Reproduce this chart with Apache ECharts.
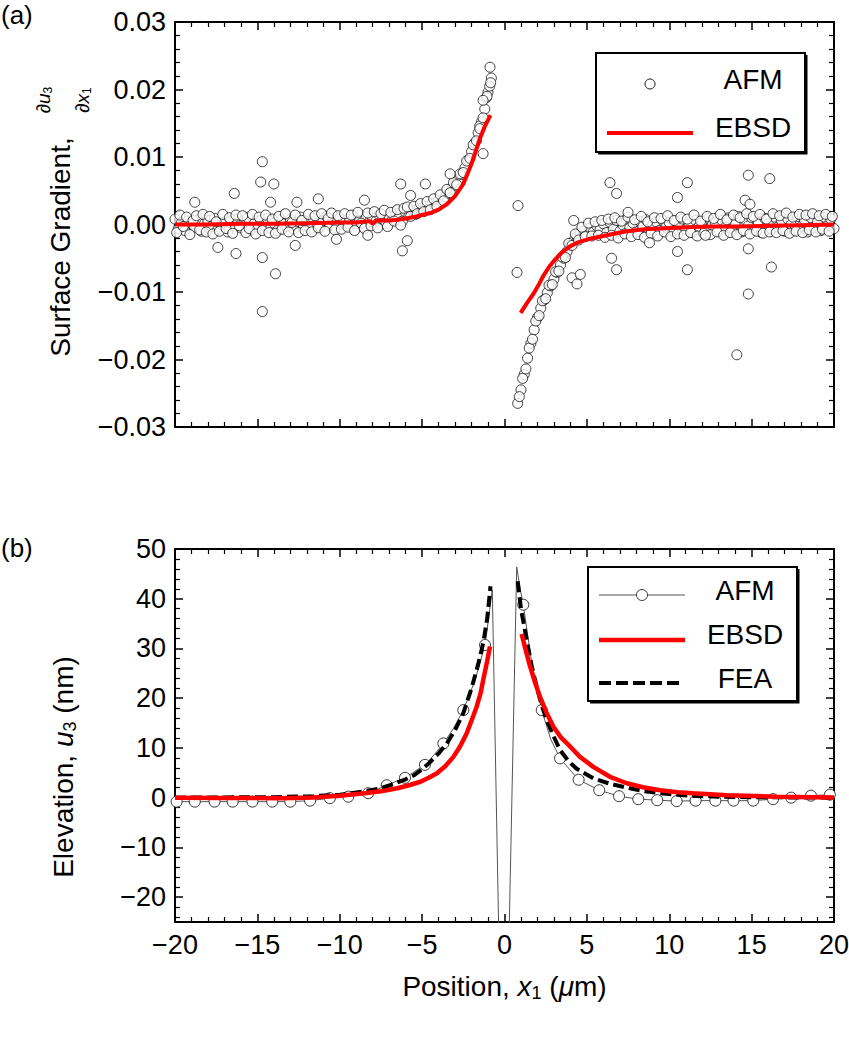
<!DOCTYPE html>
<html><head><meta charset="utf-8">
<script src="https://cdn.jsdelivr.net/npm/echarts@6/dist/echarts.min.js"></script>
<style>html,body{margin:0;padding:0;background:#fff}#c{width:849px;height:1050px}</style>
</head><body><div id="c"></div>
<script>
// ---------- Panel (a): surface gradient (AFM samples) ----------
const gradLeftX = [
-20,-19.8,-19.6,-19.4,-19.2,-19,-18.8,-18.6,-18.4,-18.2,
-18,-17.8,-17.6,-17.4,-17.2,-17,-16.8,-16.6,-16.4,-16.2,
-16,-15.8,-15.6,-15.4,-15.2,-15,-14.8,-14.6,-14.4,-14.2,
-14,-13.8,-13.6,-13.4,-13.2,-13,-12.8,-12.6,-12.4,-12.2,
-12,-11.8,-11.6,-11.4,-11.2,-11,-10.8,-10.6,-10.4,-10.2,
-10,-9.8,-9.6,-9.4,-9.2,-9,-8.8,-8.6,-8.4,-8.2,
-8,-7.8,-7.6,-7.4,-7.2,-7,-6.8,-6.6,-6.4,-6.2,
-6,-5.8,-5.6,-5.4,-5.2,-5,-4.8,-4.6,-4.4,-4.2,
-4,-3.8,-3.6,-3.4,-3.2,-3,-2.8,-2.6,-2.4,-2.2,
-2,-1.8,-1.6,-1.4,-1.2,-1,-0.8];
const gradLeftY = [
0.0008,-0.0006,0.0003,-0.0009,0.0005,0.0001,-0.0004,0.0007,-0.0010,0.0002,
0.0006,-0.0003,0.0009,-0.0007,0.0000,0.0004,-0.0011,0.0005,-0.0002,0.0008,
-0.0005,0.0003,0.0010,-0.0008,0.0001,-0.0004,0.0006,-0.0001,0.0009,-0.0006,
0.0002,-0.0009,0.0007,0.0001,-0.0003,0.0008,-0.0006,0.0004,0.0011,-0.0002,
0.0005,-0.0007,0.0009,0.0002,-0.0004,0.0006,0.0012,-0.0001,0.0007,-0.0005,
0.0010,0.0003,-0.0002,0.0008,0.0013,0.0001,0.0006,-0.0003,0.0011,0.0004,
0.0009,0.0005,0.0014,0.0008,0.0002,0.0012,0.0007,0.0016,0.0010,0.0005,
0.0018,0.0013,0.0021,0.0015,0.0024,0.0020,0.0027,0.0023,0.0031,0.0028,
0.0036,0.0033,0.0041,0.0046,0.0052,0.0058,0.0066,0.0074,0.0084,0.0095,
0.0108,0.0121,0.0136,0.0152,0.0171,0.0196,0.0217];
const gradMidLeftX = [
-19.9,-19.7,-19.5,-19.3,-19.1,-18.9,-18.7,-18.5,-18.3,-18.1,
-17.9,-17.7,-17.5,-17.3,-17.1,-16.9,-16.7,-16.5,-16.3,-16.1,
-15.9,-15.7,-15.5,-15.3,-15.1,-14.9,-14.7,-14.5,-14.3,-14.1,
-13.9,-13.7,-13.5,-13.3,-13.1,-12.9,-12.7,-12.5,-12.3,-12.1,
-11.9,-11.7,-11.5,-11.3,-11.1,-10.9,-10.7,-10.5,-10.3,-10.1,
-9.9,-9.7,-9.5,-9.3,-9.1,-8.9,-8.7,-8.5,-8.3,-8.1,
-7.9,-7.7,-7.5,-7.3,-7.1,-6.9,-6.7,-6.5,-6.3,-6.1,
-5.9,-5.7,-5.5,-5.3,-5.1,-4.9,-4.7,-4.5,-4.3,-4.1,
-3.9,-3.7,-3.5,-3.3,-3.1,-2.9,-2.7,-2.5,-2.3,-2.1,
-1.9,-1.7,-1.5,-1.3,-1.1,-0.9];
const gradMidLeftY = [
-0.0012,0.0014,-0.0003,0.0011,-0.0015,0.0006,0.0013,-0.0008,0.0015,-0.0011,
0.0012,-0.0014,0.0004,-0.0010,0.0015,-0.0006,0.0010,-0.0013,0.0014,-0.0002,
0.0013,-0.0012,-0.0006,0.0015,-0.0014,0.0011,-0.0009,0.0014,-0.0012,0.0008,
-0.0013,0.0012,-0.0007,0.0016,-0.0011,0.0003,0.0014,-0.0012,0.0006,-0.0009,
0.0015,-0.0011,0.0013,-0.0005,0.0016,-0.0010,0.0009,0.0017,-0.0008,0.0013,
-0.0007,0.0016,-0.0004,0.0014,-0.0009,0.0018,0.0002,-0.0006,0.0017,-0.0002,
0.0019,-0.0005,0.0016,0.0021,-0.0003,0.0018,0.0005,0.0022,-0.0001,0.0024,
0.0026,0.0012,0.0027,0.0016,0.0031,0.0019,0.0034,0.0022,0.0038,0.0027,
0.0044,0.0035,0.0052,0.0047,0.0062,0.0059,0.0075,0.0077,0.0094,0.0098,
0.0118,0.0124,0.0146,0.0158,0.0188,0.0205];
const gradRightX = [
0.8,1,1.2,1.4,1.6,1.8,2,2.2,2.4,2.6,
2.8,3,3.2,3.4,3.6,3.8,4,4.2,4.4,4.6,
4.8,5,5.2,5.4,5.6,5.8,6,6.2,6.4,6.6,
6.8,7,7.2,7.4,7.6,7.8,8,8.2,8.4,8.6,
8.8,9,9.2,9.4,9.6,9.8,10,10.2,10.4,10.6,
10.8,11,11.2,11.4,11.6,11.8,12,12.2,12.4,12.6,
12.8,13,13.2,13.4,13.6,13.8,14,14.2,14.4,14.6,
14.8,15,15.2,15.4,15.6,15.8,16,16.2,16.4,16.6,
16.8,17,17.2,17.4,17.6,17.8,18,18.2,18.4,18.6,
18.8,19,19.2,19.4,19.6,19.8,20];
const gradRightY = [
-0.0265,-0.0245,-0.0222,-0.0198,-0.0176,-0.0156,-0.0138,-0.0124,-0.0112,-0.0101,
-0.0091,-0.0081,-0.0071,-0.0060,-0.0050,-0.0040,-0.0030,-0.0024,-0.0018,-0.0013,
-0.0010,-0.0016,-0.0005,-0.0011,-0.0002,-0.0008,0.0001,-0.0012,0.0003,-0.0007,
0.0006,-0.0010,-0.0001,0.0008,-0.0005,0.0002,-0.0011,0.0005,-0.0003,0.0007,
-0.0008,0.0000,0.0004,-0.0009,0.0006,-0.0004,0.0003,-0.0010,0.0005,-0.0002,
0.0008,-0.0007,0.0001,-0.0012,0.0006,-0.0003,0.0004,-0.0008,0.0009,-0.0001,
0.0003,-0.0010,0.0006,-0.0004,0.0010,-0.0006,0.0002,0.0012,-0.0011,0.0007,
-0.0002,0.0010,-0.0008,0.0004,-0.0012,0.0009,0.0001,-0.0007,0.0011,-0.0004,
0.0006,-0.0010,0.0008,0.0000,-0.0009,0.0012,-0.0003,0.0007,-0.0011,0.0010,
-0.0005,0.0004,-0.0009,0.0011,-0.0002,0.0008,-0.0006];
const gradMidRightX = [
0.9,1.1,1.3,1.5,1.7,1.9,2.1,2.3,2.5,2.7,
2.9,3.1,3.3,3.5,3.7,3.9,4.1,4.3,4.5,4.7,
4.9,5.1,5.3,5.5,5.7,5.9,6.1,6.3,6.5,6.7,
6.9,7.1,7.3,7.5,7.7,7.9,8.1,8.3,8.5,8.7,
8.9,9.1,9.3,9.5,9.7,9.9,10.1,10.3,10.5,10.7,
10.9,11.1,11.3,11.5,11.7,11.9,12.1,12.3,12.5,12.7,
12.9,13.1,13.3,13.5,13.7,13.9,14.1,14.3,14.5,14.7,
14.9,15.1,15.3,15.5,15.7,15.9,16.1,16.3,16.5,16.7,
16.9,17.1,17.3,17.5,17.7,17.9,18.1,18.3,18.5,18.7,
18.9,19.1,19.3,19.5,19.7,19.9];
const gradMidRightY = [
-0.0255,-0.0228,-0.0214,-0.0183,-0.0170,-0.0143,-0.0135,-0.0113,-0.0110,-0.0090,
-0.0089,-0.0070,-0.0069,-0.0048,-0.0049,-0.0028,-0.0031,-0.0014,-0.0023,-0.0004,
-0.0018,0.0002,-0.0017,0.0004,-0.0016,0.0006,-0.0019,0.0008,-0.0016,0.0010,
-0.0020,0.0005,-0.0014,0.0011,-0.0018,0.0007,-0.0015,0.0012,-0.0019,0.0004,
-0.0013,0.0010,-0.0017,0.0009,-0.0011,0.0013,-0.0018,0.0006,-0.0014,0.0011,
-0.0016,0.0008,-0.0012,0.0014,-0.0017,0.0005,-0.0013,0.0012,-0.0015,0.0009,
-0.0011,0.0015,-0.0016,0.0007,-0.0012,0.0014,-0.0015,0.0010,-0.0009,0.0016,
-0.0014,0.0012,-0.0010,0.0015,-0.0013,0.0008,-0.0011,0.0016,-0.0012,0.0013,
-0.0009,0.0017,-0.0013,0.0011,-0.0010,0.0015,-0.0012,0.0014,-0.0008,0.0016,
-0.0011,0.0013,-0.0007,0.0015,-0.0010,0.0012];
const gradOutX = [-18.8,-17.4,-16.4,-16.3,-14.7,-14.8,-14.0,-14.2,-14.7,-13.9,
-14.7,-12.6,-12.7,-11.3,-10.2,-8.5,-8.3,-6.3,-5.7,-5.9,
-6.2,-4.8,-3.3,-1.3,-0.88,-0.84,-1.06,-1.3,-1.5,0.82,
0.76,4.1,4.4,4.6,4.2,6.4,6.8,6.5,6.8,7.5,
8.8,10.5,11.1,10.5,11.1,12.2,14.8,16.1,14.6,14.9,
14.8,16.2,14.8,14.1];
const gradOutY = [0.0033,-0.0034,0.0046,-0.0043,0.0093,0.0063,0.0060,0.0033,-0.0049,-0.0073,
-0.0129,0.0033,-0.0031,0.0038,-0.0022,0.0036,-0.0016,0.0060,0.0043,-0.0024,
-0.0039,0.0060,0.0075,0.0105,0.0233,0.0210,0.0190,0.0184,0.0142,0.0028,
-0.0071,-0.0079,-0.0088,-0.0074,0.0006,0.0062,0.0046,-0.0050,-0.0067,0.0018,
-0.0027,0.0040,0.0062,-0.0040,-0.0067,-0.0016,0.0073,0.0068,0.0036,0.0030,
-0.0036,-0.0063,-0.0103,-0.0193];
const ebsdGradLX = [-20,-18,-16,-14,-12,-10,-9,-8.2,-8,-7.8,-7,-6.5,-6,-5.5,-5,-4.5,-4,-3.5,-3,-2.5,-2,-1.5,-1.2,-0.85];
const ebsdGradLY = [0,0,0.0001,0.0001,0.0002,0.0003,0.0003,0.0005,0.0001,0.0006,0.0006,0.0007,0.0009,0.0011,0.0014,0.0017,0.0022,0.003,0.0042,0.006,0.009,0.0127,0.0145,0.0162];
const ebsdGradRX = [0.98,1.4,1.75,2.1,2.36,2.7,3.07,3.5,4.0,4.5,5.2,6.2,7.4,8.5,9.4,11,12.5,14,16,18,20];
const ebsdGradRY = [-0.0131,-0.0115,-0.0103,-0.0088,-0.0076,-0.0063,-0.0052,-0.0041,-0.0032,-0.0026,-0.0021,-0.0016,-0.001,-0.0007,-0.0006,-0.0004,-0.0003,-0.0003,-0.0002,-0.0001,0];

// ---------- Panel (b): elevation ----------
const afmElevX = [-19.9,-18.8,-17.6,-16.5,-15.3,-14.1,-13.0,-11.8,-10.6,-9.48,-8.27,-7.15,-6.04,-4.83,-4.3,-3.71,-3.1,-2.5,-1.8,-1.18,-0.95,-0.74,-0.05,0.74,0.95,1.14,1.7,2.26,2.8,3.37,4.5,5.75,6.95,8.12,9.27,10.45,11.6,12.8,13.9,15.1,16.3,17.4,18.6,19.75];
const afmElevY = [-0.8,-0.8,-0.8,-0.8,-0.8,-0.8,-0.8,-0.6,-0.1,0.2,0.9,2.5,4.0,6.6,8.5,10.9,13.9,17.6,23.5,30.7,36.5,41.8,-80,46.4,42,38.8,26,17.6,11.8,7.9,3.6,1.5,0.3,-0.3,-0.5,-0.7,-0.6,-0.6,-0.6,-0.6,-0.3,0.0,0.4,0.6];
const afmElevMarker = [1,1,1,1,1,1,1,1,1,1,1,1,1,1,0,1,0,1,0,1,0,0,0,0,0,1,0,1,0,1,1,1,1,1,1,1,1,1,1,1,1,1,1,1];
const ebsdElevLX = [-20,-17,-13.6,-11.6,-10,-8.5,-7.5,-6.5,-5.8,-5.1,-4.6,-4.1,-3.6,-3.1,-2.7,-2.3,-2.0,-1.69,-1.45,-1.29,-1.05,-0.88];
const ebsdElevLY = [0,-0.05,-0.1,0.05,0.4,0.9,1.3,1.9,2.5,3.2,4.0,4.9,6.3,8.2,10.3,12.9,15.5,18.3,21,23.7,27.5,30.4];
const ebsdElevRX = [1.04,1.3,1.55,1.85,2.15,2.55,2.96,3.45,3.98,4.58,5.39,6.4,7.42,8.4,9.44,10.5,11.46,13.5,16.5,20];
const ebsdElevRY = [32.9,29.5,26.4,23.2,20.3,17.1,14.3,12,10.3,8.2,6.2,4.2,2.9,2.1,1.5,1.1,0.9,0.5,0.2,0.05];
const feaElevLX = [-20,-17,-14,-11.6,-10,-8.6,-7.5,-6.95,-6,-5.5,-5,-4.5,-4,-3.5,-3,-2.5,-2,-1.6,-1.29,-1.05,-0.85];
const feaElevLY = [0,0.05,0.1,0.3,0.6,1.2,1.9,2.5,3.7,4.5,5.7,7.2,8.9,10.9,13.6,17,22,26.8,31.1,36,42.5];
const feaElevRX = [0.8,1.0,1.35,1.65,1.95,2.25,2.56,3.0,3.37,3.9,4.38,5.39,6.4,7.42,8.5,9.44,10.5,11.5,13,15,17.5,20];
const feaElevRY = [43.5,38,31.7,26.5,22.3,18.7,15.6,12.2,9.6,7.3,5.8,3.9,2.8,2.0,1.3,0.9,0.6,0.35,0.2,0.1,0.05,0];

// ---------- Ticks ----------
const elevMajorTicks = [-20,-10,0,10,20,30,40,50];
const elevMinorTicks = [-24,-22,-18,-16,-14,-12,-8,-6,-4,-2,2,4,6,8,12,14,16,18,22,24,26,28,32,34,36,38,42,44,46,48];

const FONT = '"Liberation Sans", Arial, Helvetica, sans-serif';
const pairs = (xs, ys) => xs.map((x, i) => [x, ys[i]]);
const minus = s => String(s).replace('-', '\u2212');

const chart = echarts.init(document.getElementById('c'), null, {renderer: 'svg'});

const axisLine = {show: true, onZero: false, lineStyle: {color: '#000', width: 2}};
const tickMajor = {show: true, inside: true, length: 8, lineStyle: {color: '#000', width: 1.5}};
const tickMinor = {show: true, splitNumber: 5, length: 5, lineStyle: {color: '#000', width: 1.2}};
const labelBase = {margin: 9, fontSize: 27, fontFamily: FONT, color: '#000'};

function xAx(grid, pos, showLabels, extra) {
  return Object.assign({
    type: 'value', gridIndex: grid, position: pos, min: -20, max: 20, interval: 5,
    axisLine, axisTick: tickMajor, minorTick: tickMinor,
    splitLine: {show: false}, minorSplitLine: {show: false},
    axisLabel: Object.assign({show: showLabels, formatter: v => minus(v)}, labelBase)
  }, extra || {});
}
function yGradAx(pos, showLabels) {
  return {
    type: 'value', gridIndex: 0, position: pos, min: -0.03, max: 0.03, interval: 0.01,
    axisLine, axisTick: tickMajor, minorTick: tickMinor,
    splitLine: {show: false}, minorSplitLine: {show: false},
    axisLabel: Object.assign({show: showLabels, formatter: v => minus((Math.abs(v) < 1e-9 ? 0 : v).toFixed(2))}, labelBase)
  };
}
function yElevAx(pos, showLabels) {
  return {
    type: 'value', gridIndex: 1, position: pos, min: -25, max: 50,
    axisLine, axisTick: Object.assign({customValues: elevMajorTicks}, tickMajor),
    minorTick: {show: false}, splitLine: {show: false},
    axisLabel: Object.assign({show: showLabels, customValues: elevMajorTicks, formatter: v => minus(v)}, labelBase)
  };
}
function yElevMinorAx(pos) {
  return {
    type: 'value', gridIndex: 1, position: pos, min: -25, max: 50,
    axisLine: {show: false, onZero: false},
    axisTick: {show: true, inside: true, length: 5, customValues: elevMinorTicks, lineStyle: {color: '#000', width: 1.2}},
    minorTick: {show: false}, splitLine: {show: false}, axisLabel: {show: false}
  };
}

const richTitle = {
  n: {fontSize: 28, fontFamily: FONT, color: '#000', lineHeight: 32},
  i: {fontSize: 28, fontFamily: FONT, color: '#000', fontStyle: 'italic', lineHeight: 32},
  s: {fontSize: 18, fontFamily: FONT, color: '#000', lineHeight: 14, verticalAlign: 'bottom'}
};
const richFrac = {
  n: {fontSize: 19, fontFamily: FONT, color: '#000', lineHeight: 22},
  i: {fontSize: 19, fontFamily: FONT, color: '#000', fontStyle: 'italic', lineHeight: 22},
  s: {fontSize: 12, fontFamily: FONT, color: '#000', lineHeight: 10, verticalAlign: 'bottom'}
};

function legendBox(x, y, w, h) {
  return [
    {type: 'rect', z: 100, shape: {x, y, width: w, height: h}, style: {fill: '#fff', stroke: '#000', lineWidth: 2}},
    {type: 'polyline', z: 101, shape: {points: [[x + w + 1, y + 2], [x + w + 1, y + h + 1], [x + 2, y + h + 1]]}, style: {fill: null, stroke: '#000', lineWidth: 3}}
  ];
}
function legendText(text, cx, cy) {
  return {type: 'text', z: 102, x: cx, y: cy, style: {text, fontSize: 28, fontFamily: FONT, fill: '#000', align: 'center', verticalAlign: 'middle'}};
}

const option = {
  animation: false,
  backgroundColor: '#fff',
  grid: [
    {left: 175, right: 15, top: 22, height: 405, containLabel: false, outerBoundsMode: 'none'},
    {left: 175, right: 15, top: 549, height: 373, containLabel: false, outerBoundsMode: 'none'}
  ],
  xAxis: [
    xAx(0, 'bottom', false),
    xAx(0, 'top', false),
    xAx(1, 'bottom', true, {
      name: '{n|Position, }{i|x}{s|1}{n| (}{i|\u03bc}{n|m)}', nameLocation: 'middle', nameGap: 48,
      nameTextStyle: {rich: richTitle, fontSize: 28, fontFamily: FONT, color: '#000'}
    }),
    xAx(1, 'top', false)
  ],
  yAxis: [
    yGradAx('left', true),
    yGradAx('right', false),
    yElevAx('left', true),
    yElevAx('right', false),
    yElevMinorAx('left'),
    yElevMinorAx('right')
  ],
  series: [
    {name: 'AFM', type: 'scatter', xAxisIndex: 0, yAxisIndex: 0, symbol: 'circle', symbolSize: 10, z: 2,
     itemStyle: {color: '#fff', borderColor: '#111', borderWidth: 1},
     data: pairs(gradLeftX, gradLeftY).concat(pairs(gradMidLeftX, gradMidLeftY), pairs(gradRightX, gradRightY), pairs(gradMidRightX, gradMidRightY), pairs(gradOutX, gradOutY))},
    {name: 'EBSD', type: 'line', xAxisIndex: 0, yAxisIndex: 0, symbol: 'none', z: 3,
     lineStyle: {color: '#ff0000', width: 4}, data: pairs(ebsdGradLX, ebsdGradLY)},
    {name: 'EBSD', type: 'line', xAxisIndex: 0, yAxisIndex: 0, symbol: 'none', z: 3,
     lineStyle: {color: '#ff0000', width: 4}, data: pairs(ebsdGradRX, ebsdGradRY)},
    {name: 'AFM elev', type: 'line', xAxisIndex: 2, yAxisIndex: 2, symbol: 'circle', symbolSize: 11, showAllSymbol: true, z: 2,
     lineStyle: {color: '#555', width: 1}, itemStyle: {color: '#fff', borderColor: '#333', borderWidth: 1},
     data: afmElevX.map((x, i) => afmElevMarker[i] ? [x, afmElevY[i]] : {value: [x, afmElevY[i]], symbol: 'none'})},
    {name: 'FEA', type: 'line', xAxisIndex: 2, yAxisIndex: 2, symbol: 'none', z: 3,
     lineStyle: {color: '#000', width: 4, type: [11, 5]}, data: pairs(feaElevLX, feaElevLY)},
    {name: 'FEA', type: 'line', xAxisIndex: 2, yAxisIndex: 2, symbol: 'none', z: 3,
     lineStyle: {color: '#000', width: 4, type: [11, 5]}, data: pairs(feaElevRX, feaElevRY)},
    {name: 'EBSD elev', type: 'line', xAxisIndex: 2, yAxisIndex: 2, symbol: 'none', z: 4,
     lineStyle: {color: '#ff0000', width: 4.5}, data: pairs(ebsdElevLX, ebsdElevLY)},
    {name: 'EBSD elev', type: 'line', xAxisIndex: 2, yAxisIndex: 2, symbol: 'none', z: 4,
     lineStyle: {color: '#ff0000', width: 4.5}, data: pairs(ebsdElevRX, ebsdElevRY)}
  ],
  graphic: [
    {type: 'text', x: 1, y: 15, style: {text: '(a)', fontSize: 26, fontFamily: FONT, fill: '#000', align: 'left', verticalAlign: 'middle'}},
    {type: 'text', x: 1, y: 548, style: {text: '(b)', fontSize: 26, fontFamily: FONT, fill: '#000', align: 'left', verticalAlign: 'middle'}},
    {type: 'group', x: 60, y: 222, rotation: Math.PI / 2, children: [
      {type: 'text', x: -25, y: 0, style: {text: 'Surface Gradient,', fontSize: 28, fontFamily: FONT, fill: '#000', align: 'center', verticalAlign: 'middle'}},
      {type: 'text', x: 122, y: -17, style: {text: '{n|\u2202}{i|u}{s|3}', rich: richFrac, align: 'center', verticalAlign: 'middle'}},
      {type: 'text', x: 122, y: 22, style: {text: '{n|\u2202}{i|x}{s|1}', rich: richFrac, align: 'center', verticalAlign: 'middle'}}
    ]},
    {type: 'text', x: 63, y: 767, rotation: Math.PI / 2,
     style: {text: '{n|Elevation, }{i|u}{s|3}{n| (nm)}', rich: richTitle, align: 'center', verticalAlign: 'middle'}},
    // legend (a)
    ...legendBox(596, 53, 209, 99),
    {type: 'circle', z: 102, shape: {cx: 650, cy: 84, r: 5}, style: {fill: '#fff', stroke: '#111', lineWidth: 1}},
    legendText('AFM', 753, 79),
    {type: 'line', z: 102, shape: {x1: 607, y1: 133, x2: 693, y2: 133}, style: {stroke: '#ff0000', lineWidth: 4}},
    legendText('EBSD', 753, 127),
    // legend (b)
    ...legendBox(588, 567, 209, 134),
    {type: 'line', z: 102, shape: {x1: 599, y1: 595, x2: 685, y2: 595}, style: {stroke: '#555', lineWidth: 1}},
    {type: 'circle', z: 103, shape: {cx: 642, cy: 595, r: 5.5}, style: {fill: '#fff', stroke: '#333', lineWidth: 1}},
    legendText('AFM', 745, 590),
    {type: 'line', z: 102, shape: {x1: 599, y1: 640, x2: 685, y2: 640}, style: {stroke: '#ff0000', lineWidth: 4.5}},
    legendText('EBSD', 745, 634),
    {type: 'line', z: 102, shape: {x1: 599, y1: 683, x2: 683, y2: 683}, style: {stroke: '#000', lineWidth: 4, lineDash: [12, 5]}},
    legendText('FEA', 745, 678)
  ]
};
chart.setOption(option);
</script>
</body></html>
